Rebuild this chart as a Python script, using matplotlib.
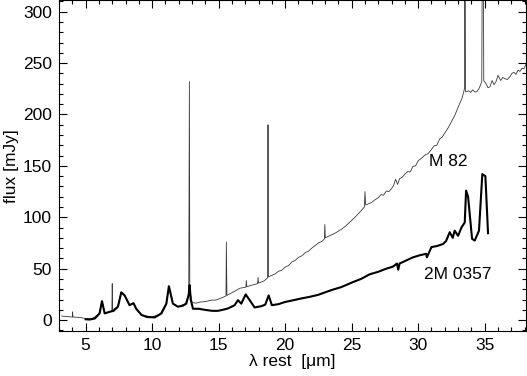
"""
M 82 과 2M 0357 의 중적외 스펙트럼 비교 (flux vs rest wavelength).
"""
import matplotlib
matplotlib.use("Agg")
import matplotlib.pyplot as plt
from matplotlib.ticker import MultipleLocator

# M 82 (thin line): rest wavelength [um], flux [mJy]
m82_wl = [3.2, 3.5, 3.8, 4.0, 4.02, 4.05, 4.3, 4.6, 5.0, 5.5,
          6.0, 6.23, 6.45, 6.8, 6.97, 7.0, 7.03, 7.4, 7.68, 7.95,
          8.3, 8.6, 8.85, 9.2, 10.0, 10.6, 11.05, 11.26, 11.55, 11.95,
          12.5, 12.75, 12.8, 12.83, 13.0, 13.3, 13.6, 14.0, 14.45, 14.8,
          15.2, 15.45, 15.55, 15.58, 15.62, 15.9, 16.2, 16.6, 17.05, 17.08,
          17.12, 17.5, 17.93, 17.96, 18.0, 18.4, 18.68, 18.71, 18.74, 19.0,
          19.25, 19.5, 19.75, 20.0, 20.25, 20.5, 20.75, 21.0, 21.25, 21.5,
          21.75, 22.0, 22.25, 22.5, 22.75, 22.95, 22.98, 23.02, 23.25, 23.5,
          23.75, 24.0, 24.25, 24.5, 24.75, 25.0, 25.25, 25.5, 25.75, 25.95,
          26.0, 26.05, 26.25, 26.5, 26.75, 27.0, 27.2, 27.4, 27.6, 27.8,
          28.0, 28.15, 28.3, 28.45, 28.6, 28.8, 29.0, 29.2, 29.4, 29.6,
          29.8, 30.0, 30.25, 30.5, 30.75, 31.0, 31.2, 31.4, 31.6, 31.8,
          32.0, 32.25, 32.5, 32.75, 33.0, 33.3, 33.48, 33.5, 33.53, 33.56,
          33.8, 33.95, 34.1, 34.25, 34.4, 34.6, 34.78, 34.81, 34.9, 34.93,
          35.1, 35.25, 35.4, 35.55, 35.7, 35.85, 36.0, 36.2, 36.35, 36.5,
          36.7, 36.9, 37.05, 37.2, 37.35, 37.5, 37.65, 37.8, 37.95, 38.1]
m82_flux = [4.0, 3.5, 3.2, 3.0, 8.0, 3.0, 2.8, 2.5, 1.5, 1.5,
            6.0, 18.0, 7.0, 8.0, 9.0, 35.5, 10.0, 13.0, 27.0, 24.0,
            14.5, 16.5, 10.0, 5.0, 3.0, 6.0, 16.0, 32.0, 16.0, 13.0,
            16.0, 25.0, 232.0, 30.0, 17.0, 16.5, 17.5, 18.0, 19.4, 19.5,
            21.5, 23.0, 23.5, 76.0, 24.0, 26.0, 28.0, 31.0, 32.0, 38.5,
            32.5, 34.0, 35.5, 41.5, 36.0, 38.0, 41.0, 190.0, 42.0, 43.5,
            45.0, 47.5, 48.5, 51.5, 53.0, 56.5, 58.0, 61.0, 62.5, 65.5,
            67.0, 70.0, 72.5, 75.0, 76.5, 79.0, 93.0, 80.0, 81.5, 83.0,
            84.5, 86.5, 88.5, 91.0, 94.0, 97.0, 100.0, 103.5, 107.0, 110.0,
            125.0, 112.0, 113.0, 114.5, 117.0, 119.0, 122.0, 121.5, 125.5, 125.0,
            128.0, 131.0, 137.0, 132.0, 137.5, 139.0, 142.0, 144.5, 144.0, 149.5,
            150.0, 155.0, 157.5, 160.5, 162.0, 166.0, 169.5, 170.0, 176.0, 178.0,
            182.0, 187.0, 193.0, 199.0, 207.0, 216.0, 225.0, 330.0, 330.0, 222.0,
            223.0, 221.5, 224.0, 222.0, 222.0, 226.0, 232.0, 330.0, 330.0, 233.0,
            230.0, 226.0, 227.0, 233.0, 229.0, 232.0, 238.0, 233.0, 236.0, 235.0,
            234.0, 237.0, 240.0, 241.0, 239.0, 243.0, 242.0, 245.0, 244.5, 249.0]

# 2M 0357 (thick line)
j0357_wl = [5.0, 5.3, 5.7, 6.05, 6.23, 6.43, 6.8, 7.1, 7.43, 7.68,
            7.93, 8.3, 8.6, 8.8, 9.2, 9.6, 10.2, 10.7, 11.07, 11.26,
            11.56, 11.94, 12.3, 12.57, 12.75, 12.82, 12.9, 13.07, 13.5, 13.95,
            14.5, 14.95, 15.3, 15.7, 16.2, 16.45, 16.7, 17.03, 17.33, 17.7,
            18.2, 18.5, 18.76, 19.0, 19.5, 19.96, 20.5, 21.2, 21.8, 22.47,
            23.0, 23.6, 24.2, 25.1, 25.7, 26.35, 27.0, 27.6, 28.1, 28.4,
            28.5, 28.6, 29.1, 29.6, 30.1, 30.6, 30.65, 31.0, 31.4, 31.87,
            32.1, 32.37, 32.6, 32.74, 33.0, 33.25, 33.5, 33.6, 33.75, 34.05,
            34.25, 34.57, 34.82, 35.05, 35.25]
j0357_flux = [0.8, 0.5, 1.6, 6.5, 18.5, 6.5, 8.0, 9.0, 13.0, 27.0,
              24.0, 14.5, 16.5, 11.0, 5.0, 3.0, 2.6, 6.5, 16.0, 33.0,
              16.0, 13.0, 14.0, 16.0, 25.0, 34.0, 20.0, 11.0, 11.0, 10.0,
              9.0, 9.0, 10.0, 11.3, 14.5, 19.4, 16.0, 25.0, 19.4, 12.3,
              13.5, 15.0, 24.0, 14.5, 15.5, 17.5, 19.0, 21.0, 22.5, 24.5,
              27.0, 29.7, 32.0, 37.0, 40.0, 44.5, 47.0, 50.0, 52.0, 55.0,
              49.0, 55.0, 58.0, 61.0, 63.0, 64.5, 61.0, 71.0, 72.0, 74.0,
              77.0, 85.5, 80.0, 87.0, 82.0, 90.0, 95.0, 126.0, 120.0, 79.0,
              77.4, 87.0, 142.0, 140.0, 84.5]

plt.rcParams["font.family"] = ["Liberation Sans", "DejaVu Sans"]
plt.rcParams["font.size"] = 12.5

fig = plt.figure(figsize=(5.27, 3.76), dpi=100)
ax = fig.add_axes([0.112, 0.12, 0.886, 0.879])

ax.plot(m82_wl, m82_flux, color="#3a3a3a", lw=0.6)
ax.plot(j0357_wl, j0357_flux, color="black", lw=1.5)

ax.text(30.8, 154, "M 82", va="center", ha="left")
ax.text(30.4, 44, "2M 0357", va="center", ha="left")

ax.set_xlim(3, 38.1)
ax.set_ylim(-10.5, 311)
ax.xaxis.set_major_locator(MultipleLocator(5))
ax.xaxis.set_minor_locator(MultipleLocator(1))
ax.yaxis.set_major_locator(MultipleLocator(50))
ax.yaxis.set_minor_locator(MultipleLocator(10))
ax.tick_params(which="both", direction="in", top=True, right=True, width=0.8)
ax.tick_params(which="major", length=6)
ax.tick_params(which="minor", length=3)
ax.tick_params(axis="x", pad=5)
ax.tick_params(axis="y", pad=5)

ax.set_xlabel("λ rest  [μm]", labelpad=1)
ax.set_ylabel("flux [mJy]", labelpad=3)

fig.savefig("out.png", dpi=100)
